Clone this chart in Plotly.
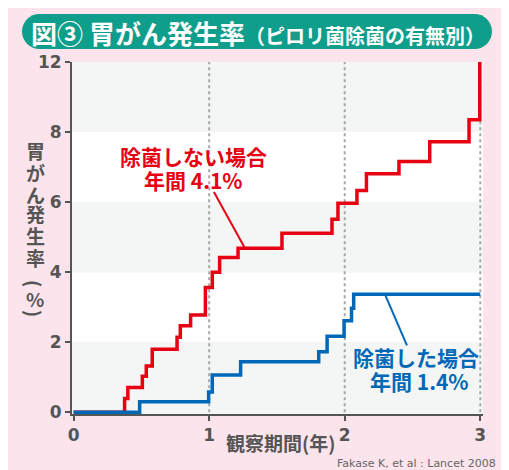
import plotly.graph_objects as go

# ---- data ----
red_x = [0, 0.376, 0.40, 0.507, 0.536, 0.58, 0.763, 0.787, 0.863, 0.972, 1.023, 1.077, 1.213,
         1.537, 1.906, 1.95, 2.09, 2.16, 2.40, 2.627, 2.917, 2.996]
red_y = [0, 0.39, 0.71, 1.03, 1.32, 1.80, 2.14, 2.47, 2.78, 3.56, 4.00, 4.42, 4.68,
         5.11, 5.51, 5.97, 6.33, 6.81, 7.16, 7.72, 8.35, 10]
blue_x = [0, 0.487, 0.996, 1.023, 1.232, 1.808, 1.87, 1.995, 2.05, 2.066, 3.0]
blue_y = [0, 0.30, 0.58, 1.06, 1.44, 1.73, 2.17, 2.61, 2.97, 3.37, 3.37]

x_tickvals = [0, 1, 2, 3]
y_tickvals = [0, 2, 4, 6, 8, 10]
y_ticktext = ["0", "2", "4", "6", "8", "12"]

title_main = "図③ 胃がん発生率"
title_sub = "（ピロリ菌除菌の有無別）"
y_title_chars = ["胃", "が", "ん", "発", "生", "率", "(", "%", ")"]
x_title = "観察期間(年)"
red_label = ["除菌しない場合", "年間 4.1%"]
blue_label = ["除菌した場合", "年間 1.4%"]
source = "Fakase K, et al : Lancet 2008"

# ---- styles ----
RED = "#e60012"
BLUE = "#0068b7"
TEAL = "#0f9e8b"
PINK = "#fbe4ec"
BAND = "#f4f6f6"
AXC = "#555555"
JP = "Noto Sans CJK JP"
LAT = "DejaVu Sans"

OFF = 8  # page body margin
W, H = 509 - OFF, 470 - OFF
L, R, T, B = 64, 26, 54, 56
XR = [-0.012, 3.02]
YR = [-0.05, 10]
PW, PH = W - L - R, H - T - B


def px(x):  # page pixel -> paper
    return (x - OFF - L) / PW


def py(y):
    return (H - B - (y - OFF)) / PH


fig = go.Figure()
fig.add_trace(go.Scatter(x=red_x, y=red_y, mode="lines", line=dict(color=RED, width=3.5, shape="hv"),
                         hoverinfo="skip"))
fig.add_trace(go.Scatter(x=blue_x, y=blue_y, mode="lines", line=dict(color=BLUE, width=3.5, shape="hv"),
                         hoverinfo="skip"))

shapes = []
shapes.append(dict(type="rect", xref="paper", yref="paper", x0=px(OFF), x1=px(W + OFF + 5),
                   y0=py(OFF), y1=py(H + OFF + 5),
                   fillcolor=PINK, line=dict(width=0), layer="below"))
# title pill
x0, x1, y0, y1, r = 22, 492, 14, 49, 17.5
k = 0.5523 * r
yc = (y0 + y1) / 2
cr, cl = x1 - r, x0 + r
pts = [("M", [(cl, y0)]), ("L", [(cr, y0)]),
       ("C", [(cr + k, y0), (cr + r, yc - k), (cr + r, yc)]),
       ("C", [(cr + r, yc + k), (cr + k, y1), (cr, y1)]),
       ("L", [(cl, y1)]),
       ("C", [(cl - k, y1), (cl - r, yc + k), (cl - r, yc)]),
       ("C", [(cl - r, yc - k), (cl - k, y0), (cl, y0)])]
path = ""
for cmd, ps in pts:
    path += cmd + " " + " ".join(f"{px(a):.5f},{py(b):.5f}" for a, b in ps) + " "
path += "Z"
shapes.append(dict(type="path", xref="paper", yref="paper", path=path, fillcolor=TEAL,
                   line=dict(width=0), layer="below"))
# plot bands
for i, v in enumerate(y_tickvals[:-1]):
    lo = YR[0] if v == 0 else v
    shapes.append(dict(type="rect", xref="x", yref="y", x0=XR[0], x1=XR[1], y0=lo, y1=y_tickvals[i + 1],
                       fillcolor=BAND if i % 2 == 0 else "white", line=dict(width=0), layer="below"))
# dotted vertical lines
for v in x_tickvals[1:]:
    shapes.append(dict(type="line", xref="x", yref="y", x0=v, x1=v, y0=0, y1=YR[1],
                       line=dict(color="#a8a8a8", width=2, dash="dot"), layer="below"))
# leader lines
shapes.append(dict(type="line", xref="x", yref="y", x0=1.035, y0=6.29, x1=1.264, y1=red_y[12],
                   line=dict(color=RED, width=2)))
shapes.append(dict(type="line", xref="x", yref="y", x0=2.459, y0=1.91, x1=2.296, y1=blue_y[-1],
                   line=dict(color=BLUE, width=2)))

ann = []
ann.append(dict(xref="paper", yref="paper", x=px(258), y=py(32), xanchor="center", yanchor="middle",
                showarrow=False,
                text=f"<b>{title_main}<span style='font-size:20px'>{title_sub}</span></b>",
                font=dict(family=JP, size=26, color="white")))
# y-axis title, vertical
y_pos = [150, 172, 194, 214, 236, 257, 283, 298, 313]
for ch, yy in zip(y_title_chars, y_pos):
    ang = 90 if ch in "()" else 0
    ann.append(dict(xref="paper", yref="paper", x=px(35), y=py(yy), xanchor="center", yanchor="middle",
                    showarrow=False, text=f"<b>{ch}</b>", textangle=ang,
                    font=dict(family=JP, size=19, color=AXC)))
ann.append(dict(xref="paper", yref="paper", x=px(280), y=py(442), xanchor="center", yanchor="middle",
                showarrow=False, text=f"<b>{x_title}</b>", font=dict(family=JP, size=19, color=AXC)))
for t, (xx, yy) in zip(red_label, [(193, 156), (193, 180)]):
    ann.append(dict(xref="paper", yref="paper", x=px(xx), y=py(yy), xanchor="center", yanchor="middle",
                    showarrow=False, text=f"<b>{t}</b>", font=dict(family=JP, size=21, color=RED)))
for t, (xx, yy) in zip(blue_label, [(416, 357), (419, 381)]):
    ann.append(dict(xref="paper", yref="paper", x=px(xx), y=py(yy), xanchor="center", yanchor="middle",
                    showarrow=False, text=f"<b>{t}</b>", font=dict(family=JP, size=21, color=BLUE)))
ann.append(dict(xref="paper", yref="paper", x=px(498), y=py(463), xanchor="right", yanchor="middle",
                showarrow=False, text=source, font=dict(family=LAT, size=11, color="#666666")))

axis_common = dict(showline=True, linecolor=AXC, linewidth=2, ticks="outside", ticklen=5, tickwidth=2,
                   tickcolor=AXC, showgrid=False, zeroline=False, layer="below traces",
                   tickfont=dict(family=LAT, size=17, color=AXC, weight="bold"))

fig.update_layout(
    width=W, height=H, margin=dict(l=L, r=R, t=T, b=B, autoexpand=False),
    paper_bgcolor="white", plot_bgcolor="white", showlegend=False,
    xaxis=dict(range=XR, tickvals=x_tickvals, ticktext=[str(v) for v in x_tickvals], **axis_common),
    yaxis=dict(range=YR, tickvals=y_tickvals, ticktext=y_ticktext, **axis_common),
    shapes=shapes, annotations=ann,
)

fig.write_html("out.html")
